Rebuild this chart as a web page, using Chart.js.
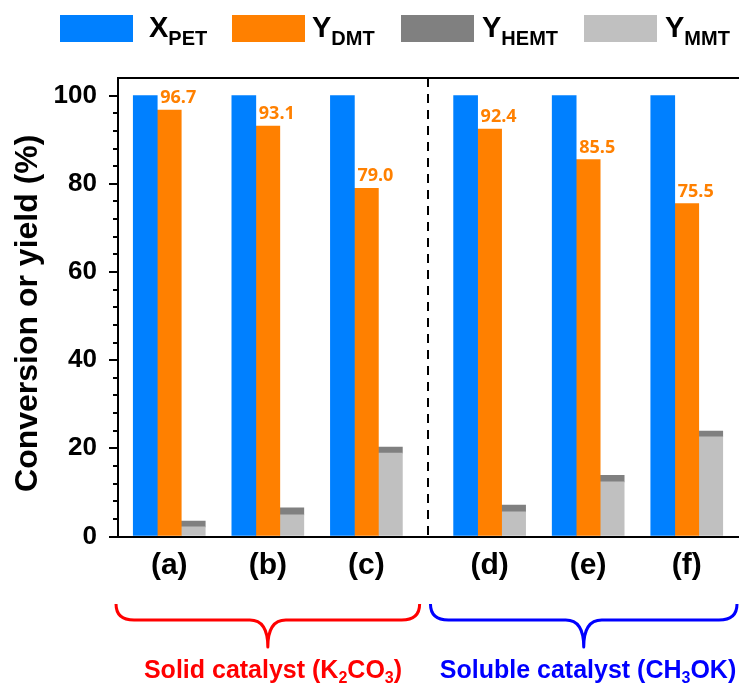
<!DOCTYPE html>
<html>
<head>
<meta charset="utf-8">
<script src="https://cdn.jsdelivr.net/npm/chart.js@4/dist/chart.umd.min.js"></script>
<style>
  html, body { margin: 0; padding: 0; background: #fff; }
  #wrap { position: relative; width: 739px; height: 686px; overflow: hidden; font-family: "Liberation Sans", Arial, sans-serif; }
  canvas { position: absolute; left: 0; top: 0; }
  .lg-box { position: absolute; top: 15px; width: 73px; height: 27px; }
  .lg-txt { position: absolute; top: 10px; font-weight: bold; font-size: 29px; line-height: 34px; color: #000; white-space: nowrap; }
  .lg-txt sub { font-size: 20px; vertical-align: -0.4em; line-height: 0; }
  .grp { position: absolute; top: 654px; font-weight: bold; font-size: 25px; line-height: 30px; white-space: nowrap; transform: translateX(-50%); }
  .grp sub { font-size: 16px; vertical-align: -0.3em; line-height: 0; }
</style>
</head>
<body>
<div id="wrap">
  <canvas id="c" width="739" height="686"></canvas>

  <div class="lg-box" style="left:60px;background:#0080FF"></div>
  <div class="lg-txt" style="left:149px">X<sub>PET</sub></div>
  <div class="lg-box" style="left:232px;background:#FF8000"></div>
  <div class="lg-txt" style="left:312px">Y<sub>DMT</sub></div>
  <div class="lg-box" style="left:401px;background:#808080"></div>
  <div class="lg-txt" style="left:482px">Y<sub>HEMT</sub></div>
  <div class="lg-box" style="left:584px;background:#C0C0C0"></div>
  <div class="lg-txt" style="left:665px">Y<sub>MMT</sub></div>

  <div class="grp" style="left:273px;color:#FF0000">Solid catalyst (K<sub>2</sub>CO<sub>3</sub>)</div>
  <div class="grp" style="left:588px;color:#0000FF">Soluble catalyst (CH<sub>3</sub>OK)</div>
</div>
<script>
// Reaction runs (a)-(c) use K2CO3, (d)-(f) use CH3OK
const categories = ['(a)', '(b)', '(c)', '(d)', '(e)', '(f)'];
const xPET  = [100, 100, 100, 100, 100, 100];
const yDMT  = [96.7, 93.1, 79.0, 92.4, 85.5, 75.5];
const yHEMT = [1.3, 1.6, 1.4, 1.5, 1.5, 1.3];
const yMMT  = [2.2, 4.9, 18.9, 5.6, 12.4, 22.6];
const yTicks = [0, 20, 40, 60, 80, 100];
const yTitle = 'Conversion or yield (%)';

// horizontal slot of each run; the two catalyst groups are split by an extra gap
const GROUP_SPLIT = 3;
const GROUP_GAP = 0.25;
const slots = categories.map((c, i) => i + (i >= GROUP_SPLIT ? GROUP_GAP : 0));

const BLUE = '#0080FF', ORANGE = '#FF8000', DGREY = '#808080', LGREY = '#C0C0C0';
const FONT = '"Liberation Sans", Arial, sans-serif';

const pts = arr => arr.map((v, i) => ({ x: slots[i], y: v }));

// minor y ticks, axis title, top frame line, group divider, DMT value labels and braces
const decor = {
  id: 'decor',
  afterDraw(chart) {
    const { ctx, chartArea: a, scales: { x, y } } = chart;
    ctx.save();
    ctx.strokeStyle = '#000';

    // minor ticks every 4 %
    ctx.lineWidth = 2;
    for (let v = 4; v < 104; v += 4) {
      if (v % 20 === 0) continue;
      const py = Math.round(y.getPixelForValue(v));
      ctx.beginPath();
      ctx.moveTo(a.left - 5, py);
      ctx.lineTo(a.left, py);
      ctx.stroke();
    }

    // y axis title
    ctx.save();
    ctx.translate(28, (a.top + a.bottom) / 2 + 6);
    ctx.rotate(-Math.PI / 2);
    ctx.fillStyle = '#000';
    ctx.font = 'bold 32px ' + FONT;
    ctx.textAlign = 'center';
    ctx.textBaseline = 'middle';
    ctx.fillText(yTitle, 0, 0);
    ctx.restore();

    // top frame line
    ctx.beginPath();
    ctx.moveTo(a.left - 1, a.top);
    ctx.lineTo(a.right, a.top);
    ctx.stroke();

    // dashed divider between the two catalyst groups
    const xd = x.getPixelForValue((slots[GROUP_SPLIT - 1] + slots[GROUP_SPLIT]) / 2);
    ctx.setLineDash([9, 7]);
    ctx.beginPath();
    ctx.moveTo(xd, a.top);
    ctx.lineTo(xd, a.bottom);
    ctx.stroke();
    ctx.setLineDash([]);

    // DMT yield labels
    const meta = chart.getDatasetMeta(1);
    ctx.fillStyle = ORANGE;
    ctx.font = 'bold 18px "Open Sans", sans-serif';
    ctx.textAlign = 'center';
    ctx.textBaseline = 'bottom';
    meta.data.forEach((bar, i) => {
      ctx.fillText(yDMT[i].toFixed(1), bar.x + 9, bar.y - 3);
    });

    // braces under each catalyst group
    const brace = (x0, x1, color) => {
      const yTop = 604, yMid = 620, yTip = 647, r = 18;
      const xm = (x0 + x1) / 2;
      ctx.strokeStyle = color;
      ctx.lineWidth = 3;
      ctx.lineJoin = 'round';
      ctx.beginPath();
      ctx.moveTo(x0, yTop);
      ctx.quadraticCurveTo(x0, yMid, x0 + r, yMid);
      ctx.lineTo(xm - r, yMid);
      ctx.quadraticCurveTo(xm, yMid, xm, yTip);
      ctx.quadraticCurveTo(xm, yMid, xm + r, yMid);
      ctx.lineTo(x1 - r, yMid);
      ctx.quadraticCurveTo(x1, yMid, x1, yTop);
      ctx.stroke();
    };
    brace(x.getPixelForValue(slots[0] - 0.54), x.getPixelForValue(slots[GROUP_SPLIT - 1] + 0.54), '#FF0000');
    brace(x.getPixelForValue(slots[GROUP_SPLIT] - 0.6), Math.min(chart.width - 2, x.getPixelForValue(slots[5] + 0.52)), '#0000FF');

    ctx.restore();
  }
};

new Chart(document.getElementById('c'), {
  type: 'bar',
  data: {
    datasets: [
      { label: 'X_PET', data: pts(xPET), backgroundColor: BLUE, stack: 'pet' },
      { label: 'Y_DMT', data: pts(yDMT), backgroundColor: ORANGE, stack: 'dmt' },
      { label: 'Y_MMT', data: pts(yMMT), backgroundColor: LGREY, stack: 'side' },
      { label: 'Y_HEMT', data: pts(yHEMT), backgroundColor: DGREY, stack: 'side' }
    ]
  },
  options: {
    responsive: false,
    animation: false,
    devicePixelRatio: 1,
    barThickness: 24,
    layout: { padding: { top: 78, left: 0, right: 0, bottom: 0 } },
    plugins: { legend: { display: false }, tooltip: { enabled: false } },
    scales: {
      x: {
        type: 'linear',
        min: slots[0] - 0.52,
        max: slots[slots.length - 1] + 0.53,
        offset: false,
        afterBuildTicks: s => { s.ticks = slots.map(v => ({ value: v })); },
        afterFit: s => { s.height = 149.5; },
        grid: { display: true, drawOnChartArea: false, drawTicks: false },
        border: { display: true, color: '#000', width: 2 },
        ticks: {
          autoSkip: false,
          maxRotation: 0,
          padding: 11,
          color: '#000',
          font: { family: FONT, size: 30, weight: 'bold' },
          callback: (v, i) => categories[i]
        }
      },
      y: {
        min: 0,
        max: 104,
        stacked: true,
        afterBuildTicks: s => { s.ticks = yTicks.map(v => ({ value: v })); },
        afterFit: s => { s.width = 118; },
        grid: { drawOnChartArea: false, drawTicks: true, tickLength: 9, tickColor: '#000', lineWidth: 2, tickWidth: 2 },
        border: { display: true, color: '#000', width: 2 },
        ticks: {
          padding: 12,
          color: '#000',
          font: { family: FONT, size: 26, weight: 'bold' }
        }
      }
    }
  },
  plugins: [decor]
});
</script>
</body>
</html>
